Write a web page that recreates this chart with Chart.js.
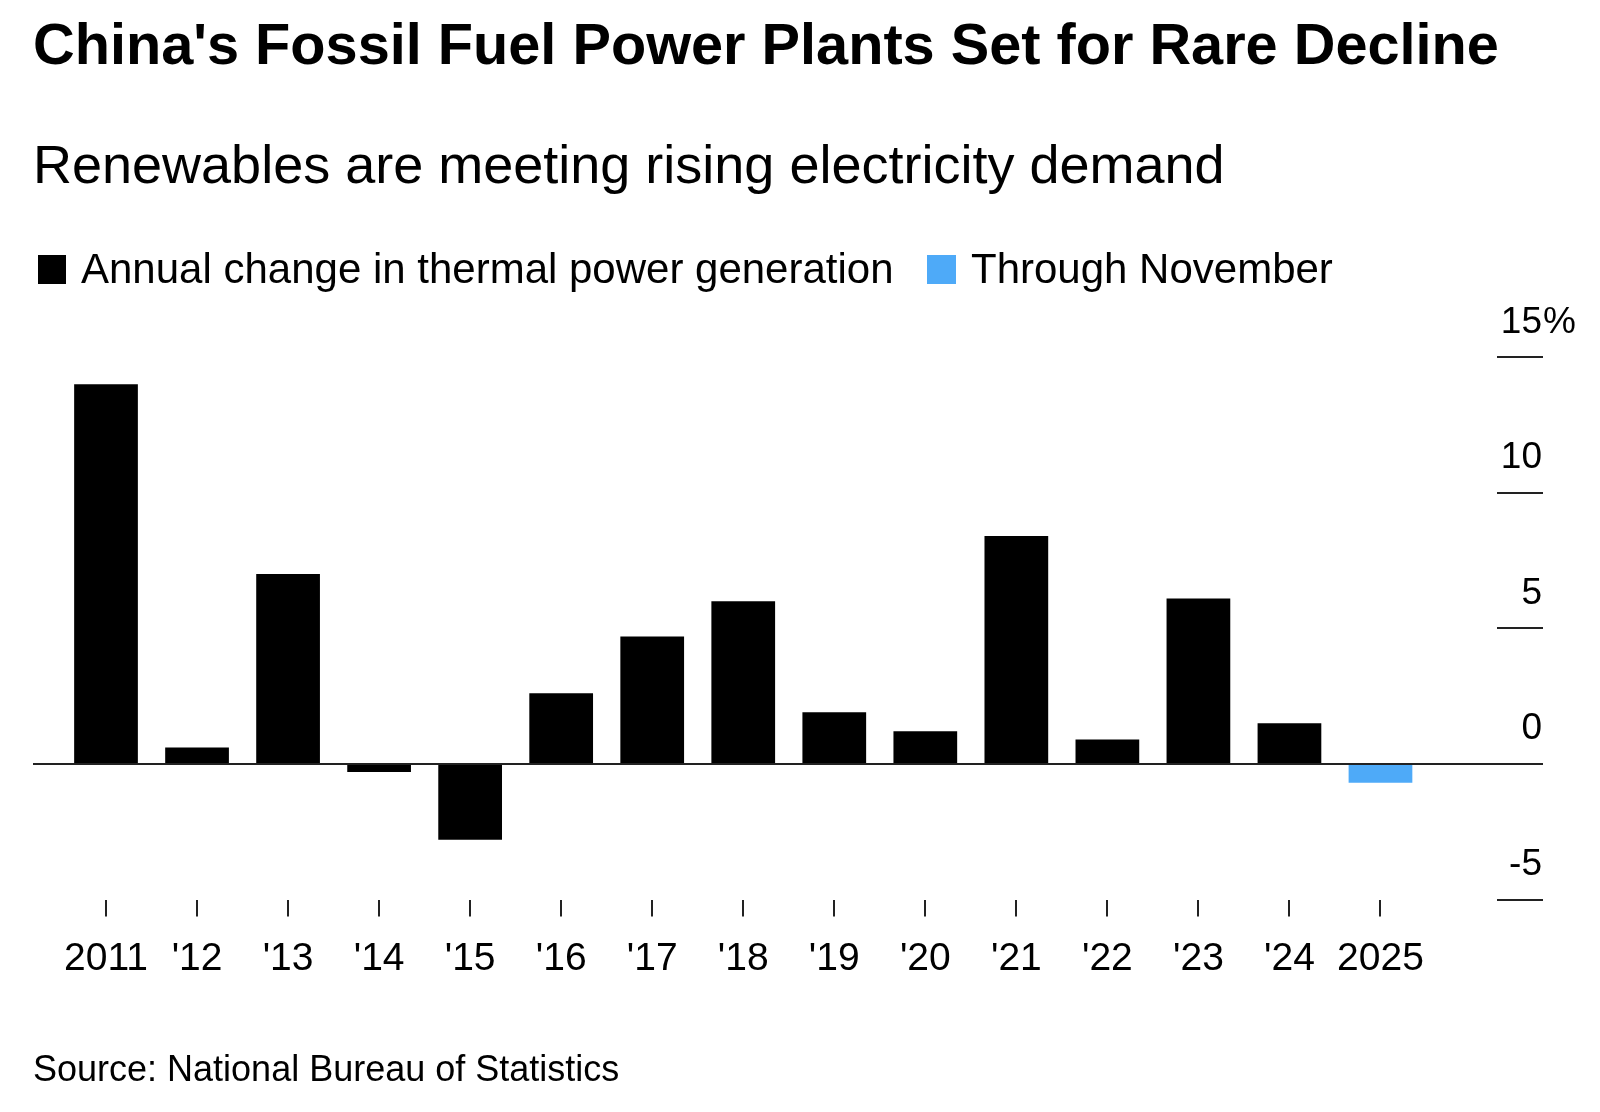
<!DOCTYPE html>
<html>
<head>
<meta charset="utf-8">
<script src="https://cdn.jsdelivr.net/npm/chart.js@4.4.1/dist/chart.umd.min.js"></script>
<style>
  html, body { margin: 0; padding: 0; background: #fff; }
  body { width: 1600px; height: 1112px; position: relative; overflow: hidden; font-family: "Liberation Sans", Arial, sans-serif; color: #000; }
  .txt { position: absolute; white-space: nowrap; line-height: 1; }
  #title { left: 33px; top: 16px; font-size: 57.7px; font-weight: bold; }
  #subtitle { left: 33px; top: 137px; font-size: 54px; }
  .lg { top: 248px; font-size: 42px; }
  .sw { position: absolute; top: 255px; width: 28.5px; height: 28.5px; }
  #source { left: 33px; top: 1051px; font-size: 36px; }
  #wrap { position: absolute; left: 0; top: 0; width: 1600px; height: 1112px; }
</style>
</head>
<body>
<div id="wrap"><canvas id="chart"></canvas></div>
<div class="txt" id="title">China's Fossil Fuel Power Plants Set for Rare Decline</div>
<div class="txt" id="subtitle">Renewables are meeting rising electricity demand</div>
<div class="sw" style="left:37.5px;background:#000;"></div>
<div class="txt lg" style="left:81px;">Annual change in thermal power generation</div>
<div class="sw" style="left:927px;background:#4eaaf8;"></div>
<div class="txt lg" style="left:971px;">Through November</div>
<div class="txt" id="source">Source: National Bureau of Statistics</div>
<script>
// ---- data ----
const years = [2011, 2012, 2013, 2014, 2015, 2016, 2017, 2018, 2019, 2020, 2021, 2022, 2023, 2024, 2025];
const tickLabels = ['2011', "'12", "'13", "'14", "'15", "'16", "'17", "'18", "'19", "'20", "'21", "'22", "'23", "'24", '2025'];
const thermalChange = [14.0, 0.6, 7.0, -0.3, -2.8, 2.6, 4.7, 6.0, 1.9, 1.2, 8.4, 0.9, 6.1, 1.5, -0.7];
const throughNovember = [false, false, false, false, false, false, false, false, false, false, false, false, false, false, true];
const yTicks = [-5, 0, 5, 10, 15];

const FULL_COLOR = '#000000';
const PARTIAL_COLOR = '#4eaaf8';
const FONT = '"Liberation Sans", Arial, sans-serif';

Chart.defaults.font.family = FONT;
Chart.defaults.color = '#000';

const yLabelPlugin = {
  id: 'yLabels',
  afterDraw(chart) {
    const ys = chart.scales.y;
    const ctx = chart.ctx;
    ctx.save();
    ctx.font = '37px ' + FONT;
    ctx.fillStyle = '#000';
    ctx.textBaseline = 'alphabetic';
    const lx = ys.right - 1;
    ys.ticks.forEach((t) => {
      const py = ys.getPixelForValue(t.value);
      ctx.textAlign = 'right';
      ctx.fillText(String(t.value), lx, py - 24.5);
      if (t.value === yTicks[yTicks.length - 1]) {
        ctx.textAlign = 'left';
        ctx.fillText('%', lx + 1, py - 24.5);
      }
    });
    ctx.restore();
  }
};

new Chart(document.getElementById('chart'), {
  type: 'bar',
  data: {
    datasets: [{
      label: 'Annual change in thermal power generation',
      data: years.map((yr, i) => ({ x: yr, y: thermalChange[i] })),
      backgroundColor: throughNovember.map(p => p ? PARTIAL_COLOR : FULL_COLOR),
      borderWidth: 0,
      barPercentage: 0.7,
      categoryPercentage: 1.0
    }]
  },
  options: {
    responsive: true,
    maintainAspectRatio: false,
    animation: false,
    devicePixelRatio: 1,
    layout: { padding: { left: 33, top: 357, right: 57, bottom: 112.5 } },
    plugins: { legend: { display: false }, tooltip: { enabled: false }, title: { display: false } },
    scales: {
      x: {
        type: 'linear',
        min: 2010.198,
        max: 2026.28,
        offset: false,
        afterBuildTicks(scale) { scale.ticks = years.map(v => ({ value: v })); },
        afterFit(scale) { scale.height = 100; },
        border: { display: false },
        grid: { offset: false, drawOnChartArea: false, drawTicks: true, tickLength: 17, tickColor: '#222', lineWidth: 2 },
        ticks: {
          autoSkip: false, maxRotation: 0, minRotation: 0, padding: 19,
          font: { size: 39 }, color: '#000',
          callback: (v, i) => tickLabels[i]
        }
      },
      y: {
        position: 'right',
        min: -5,
        max: 15,
        afterBuildTicks(scale) { scale.ticks = yTicks.map(v => ({ value: v })); },
        afterFit(scale) { scale.width = 46; },
        border: { display: false },
        grid: {
          z: 1,
          drawOnChartArea: true,
          drawTicks: true,
          tickLength: 46,
          lineWidth: 2,
          color: ctx => (ctx.tick && ctx.tick.value === 0) ? '#222' : 'rgba(0,0,0,0)',
          tickColor: '#222'
        },
        ticks: { display: false }
      }
    }
  },
  plugins: [yLabelPlugin]
});
</script>
</body>
</html>
